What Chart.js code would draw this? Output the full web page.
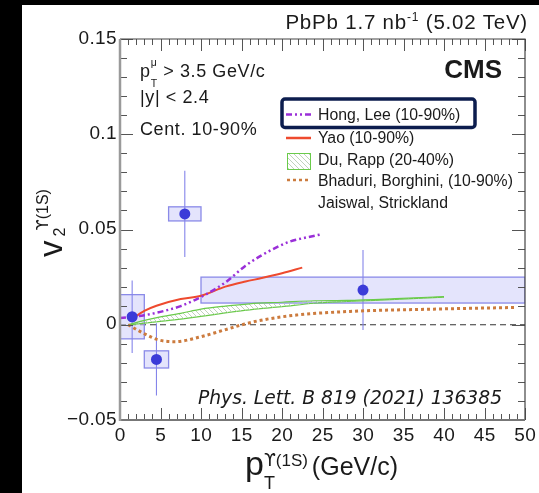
<!DOCTYPE html>
<html>
<head>
<meta charset="utf-8">
<script src="https://cdn.jsdelivr.net/npm/chart.js@4.4.1/dist/chart.umd.min.js"></script>
<style>
  html, body { margin: 0; padding: 0; background: #000; }
  #page { position: absolute; left: 22px; top: 5px; width: 517px; height: 488px; background: #fff; }
  #chart { position: absolute; left: 0; top: 0; }
  .txt { position: absolute; font-family: "Liberation Sans", Arial, sans-serif; color: #1a1a1a; white-space: nowrap; line-height: 1; }
  .stack { position: relative; display: inline-block; }
  .stack > span { position: absolute; left: 0; line-height: 1; }
  .ups { font-family: "DejaVu Sans", sans-serif; }
</style>
</head>
<body>
<div id="page"></div>
<canvas id="chart" width="539" height="493"></canvas>

<!-- header / annotations -->
<div class="txt" style="right:11px; top:12px; font-size:20.5px; letter-spacing:0.8px;">PbPb 1.7 nb<span style="font-size:12px; position:relative; top:-8px;">-1</span> (5.02 TeV)</div>
<div class="txt" style="right:37px; top:56.3px; font-size:26px; font-weight:bold;">CMS</div>

<div class="txt" style="left:140px; top:61.5px; font-size:18px; letter-spacing:0.6px;">p<span class="stack" style="width:7px;"><span style="font-size:10.5px; top:1.5px;">T</span><span style="font-size:10.5px; top:-20px;">μ</span></span> &gt; 3.5 GeV/c</div>
<div class="txt" style="left:140px; top:88px; font-size:18px; letter-spacing:0.6px;">|y| &lt; 2.4</div>
<div class="txt" style="left:140px; top:120.3px; font-size:18px; letter-spacing:0.6px;">Cent. 10-90%</div>

<!-- legend labels -->
<div class="txt" style="left:318px; top:106.5px; font-size:15.8px;">Hong, Lee (10-90%)</div>
<div class="txt" style="left:318px; top:129.8px; font-size:15.8px;">Yao (10-90%)</div>
<div class="txt" style="left:318px; top:151.5px; font-size:15.8px;">Du, Rapp (20-40%)</div>
<div class="txt" style="left:318px; top:173.2px; font-size:15.8px;">Bhaduri, Borghini, (10-90%)</div>
<div class="txt" style="left:318px; top:194.8px; font-size:15.8px;">Jaiswal, Strickland</div>

<div class="txt" style="left:198px; top:389.2px; font-size:18.7px; font-family:'DejaVu Sans', sans-serif; font-style:italic;">Phys. Lett. B 819 (2021) 136385</div>

<!-- axis titles -->
<div class="txt" style="left:245px; top:446.2px; font-size:34px;">p<span class="stack" style="width:41px;"><span style="font-size:18px; top:-1.2px;">T</span><span style="font-size:17px; top:-23.4px;"><span class="ups">ϒ</span>(1S)</span></span><span style="font-size:25px;"> (GeV/c)</span></div>
<div class="txt" style="left:34px; top:257px; font-size:33px; transform-origin:0 0; transform:rotate(-90deg);">v<span class="stack" style="width:44px;"><span style="font-size:16px; top:-10.5px; left:4px;">2</span><span style="font-size:16px; top:-27px; left:10px;"><span class="ups">ϒ</span>(1S)</span></span></div>

<script>
// ─── Measured points (CMS) ───
const ptBins  = [1.5, 4.5, 8, 30];
const v2Vals  = [0.0042, -0.0182, 0.0582, 0.0182];
const statErr = [0.019, 0.019, 0.0226, 0.021];
const sysErr  = [0.0116, 0.0045, 0.0037, 0.0068];
const binLo   = [0, 3, 6, 10];
const binHi   = [3, 6, 10, 50];

// ─── Model curves ───
const hongPt = [0, 3, 5.5, 7.5, 9, 10.5, 13, 15.5, 17.5, 19.5, 21, 23, 25];
const hongV2 = [0.0035, 0.005, 0.0073, 0.0098, 0.0125, 0.0157, 0.0222, 0.031, 0.0365, 0.041, 0.0437, 0.0458, 0.0476];

const yaoPt = [1.5, 3, 4.5, 7.5, 10, 13, 15.5, 17.5, 20, 22.5];
const yaoV2 = [0.003, 0.0073, 0.010, 0.0135, 0.0152, 0.020, 0.0227, 0.0245, 0.027, 0.030];

const duPt = [1, 2.5, 4.7, 7.5, 10, 13, 16, 20, 24, 28, 34, 40];
const duUp = [0, 0.0018, 0.0039, 0.006, 0.0082, 0.0098, 0.011, 0.0118, 0.0126, 0.0128, 0.0137, 0.0148];
const duLo = [0, 0.0006, 0.0016, 0.003, 0.0044, 0.0062, 0.0078, 0.0095, 0.0113, 0.0122, 0.0133, 0.0145];

const bhaPt = [1, 3.1, 4.7, 6.8, 9.7, 12.6, 15.4, 17.7, 21.8, 28.4, 38.7, 49];
const bhaV2 = [0, -0.0049, -0.0079, -0.0089, -0.0066, -0.0031, 0.0004, 0.0026, 0.0051, 0.007, 0.0082, 0.0091];

// ─── Axes ───
const xTicks = [0, 5, 10, 15, 20, 25, 30, 35, 40, 45, 50];
const yTicks = [-0.05, 0, 0.05, 0.1, 0.15];
const yTickLabels = ['\u22120.05', '0', '0.05', '0.1', '0.15'];

const pairs = (xs, ys) => xs.map((x, i) => ({ x, y: ys[i] }));

function hatchPattern() {
  const c = document.createElement('canvas');
  c.width = 5; c.height = 5;
  const g = c.getContext('2d');
  g.strokeStyle = '#b9cdb4';
  g.lineWidth = 0.9;
  g.beginPath();
  g.moveTo(0, 0); g.lineTo(5, 5);
  g.moveTo(-2.5, 2.5); g.lineTo(2.5, 7.5);
  g.moveTo(2.5, -2.5); g.lineTo(7.5, 2.5);
  g.stroke();
  return g.createPattern(c, 'repeat');
}
const hatch = hatchPattern();

const COL = {
  point: '#3b3bd8', err: '#8585ea', boxFill: 'rgba(205,205,250,0.55)', boxLine: '#8a8ae8',
  hong: '#9a2fd8', yao: '#ee4a2e', du: '#6acb4a', bha: '#cc7b3e', axis: '#555'
};

// ─── Decorations: syst boxes, error bars, frame, ticks, legend symbols ───
const decor = {
  id: 'decor',
  beforeDatasetsDraw(chart) {
    const { ctx, chartArea: a, scales: { x, y } } = chart;
    ctx.save();
    ctx.beginPath(); ctx.rect(a.left, a.top, a.right - a.left, a.bottom - a.top); ctx.clip();

    // zero line
    ctx.strokeStyle = '#333'; ctx.lineWidth = 1; ctx.setLineDash([6, 4]);
    ctx.beginPath(); ctx.moveTo(a.left, y.getPixelForValue(0)); ctx.lineTo(a.right, y.getPixelForValue(0)); ctx.stroke();
    ctx.setLineDash([]);

    // systematic boxes
    ptBins.forEach((pt, i) => {
      const x0 = x.getPixelForValue(binLo[i]), x1 = x.getPixelForValue(binHi[i]);
      const y0 = y.getPixelForValue(v2Vals[i] + sysErr[i]), y1 = y.getPixelForValue(v2Vals[i] - sysErr[i]);
      ctx.fillStyle = COL.boxFill; ctx.fillRect(x0, y0, x1 - x0, y1 - y0);
      ctx.strokeStyle = COL.boxLine; ctx.lineWidth = 1.3; ctx.strokeRect(x0, y0, x1 - x0, y1 - y0);
    });

    // stat error bars
    ctx.strokeStyle = COL.err; ctx.lineWidth = 1.1;
    ptBins.forEach((pt, i) => {
      const px = x.getPixelForValue(pt);
      ctx.beginPath();
      ctx.moveTo(px, y.getPixelForValue(v2Vals[i] + statErr[i]));
      ctx.lineTo(px, y.getPixelForValue(v2Vals[i] - statErr[i]));
      ctx.stroke();
    });
    ctx.restore();
  },
  afterDraw(chart) {
    const { ctx, chartArea: a, scales: { x, y } } = chart;
    ctx.save();

    // ticks (inward, all four sides)
    ctx.strokeStyle = COL.axis; ctx.lineWidth = 1;
    ctx.beginPath();
    for (let v = 0; v <= 50; v += 1) {
      const px = Math.round(x.getPixelForValue(v)) + 0.5;
      const len = v % 5 === 0 ? 12 : 6;
      ctx.moveTo(px, a.bottom); ctx.lineTo(px, a.bottom - len);
      ctx.moveTo(px, a.top); ctx.lineTo(px, a.top + len);
    }
    for (let k = -5; k <= 15; k++) {
      const py = Math.round(y.getPixelForValue(k / 100)) + 0.5;
      const len = k % 5 === 0 ? 13 : 7;
      ctx.moveTo(a.left, py); ctx.lineTo(a.left + len, py);
      ctx.moveTo(a.right, py); ctx.lineTo(a.right - len, py);
    }
    ctx.stroke();

    // frame
    ctx.strokeStyle = '#444'; ctx.lineWidth = 1.2;
    ctx.beginPath(); ctx.moveTo(a.left, a.top); ctx.lineTo(a.right, a.top); ctx.lineTo(a.right, a.bottom); ctx.stroke();
    ctx.strokeStyle = '#777'; ctx.lineWidth = 2;
    ctx.beginPath(); ctx.moveTo(a.left, a.bottom); ctx.lineTo(a.right, a.bottom); ctx.stroke();
    ctx.strokeStyle = '#9a9a9a'; ctx.lineWidth = 2.5;
    ctx.beginPath(); ctx.moveTo(a.left, a.top); ctx.lineTo(a.left, a.bottom + 1); ctx.stroke();

    // tick labels
    ctx.fillStyle = '#1a1a1a';
    ctx.font = '19px "Liberation Sans", Arial, sans-serif';
    ctx.letterSpacing = '0.4px';
    ctx.textBaseline = 'middle';
    ctx.textAlign = 'right';
    yTicks.forEach((v, i) => ctx.fillText(yTickLabels[i], a.left - 3, y.getPixelForValue(v) - 0.5));
    ctx.textAlign = 'center';
    xTicks.forEach(v => ctx.fillText(String(v), x.getPixelForValue(v) + 0.3, 436));
    ctx.letterSpacing = '0px';

    // legend symbols
    ctx.lineWidth = 2.5; ctx.strokeStyle = COL.hong; ctx.setLineDash([6, 3, 2, 3, 2, 3]);
    ctx.beginPath(); ctx.moveTo(286, 114.5); ctx.lineTo(311, 114.5); ctx.stroke();
    ctx.setLineDash([]); ctx.strokeStyle = COL.yao;
    ctx.beginPath(); ctx.moveTo(286, 138); ctx.lineTo(311, 138); ctx.stroke();
    ctx.fillStyle = hatch; ctx.fillRect(287, 153, 23, 16);
    ctx.strokeStyle = COL.du; ctx.lineWidth = 1; ctx.strokeRect(287.5, 153.5, 23, 16);
    ctx.strokeStyle = COL.bha; ctx.lineWidth = 2.5; ctx.setLineDash([3, 3]);
    ctx.beginPath(); ctx.moveTo(287, 180); ctx.lineTo(311, 180); ctx.stroke();
    ctx.setLineDash([]);

    // highlight box round first legend entry
    ctx.strokeStyle = '#0c1d4e'; ctx.lineWidth = 3.5;
    ctx.beginPath(); ctx.roundRect(282, 99, 193, 28.5, 3); ctx.stroke();
    ctx.restore();
  }
};

const lineBase = { pointRadius: 0, fill: false, cubicInterpolationMode: 'monotone' };

new Chart(document.getElementById('chart'), {
  type: 'line',
  data: {
    datasets: [
      { label: 'CMS', data: pairs(ptBins, v2Vals), showLine: false, pointRadius: 5.5,
        pointBackgroundColor: COL.point, pointBorderColor: COL.point, pointBorderWidth: 0 },
      { ...lineBase, label: 'Hong, Lee', data: pairs(hongPt, hongV2), borderColor: COL.hong, borderWidth: 2.5, borderDash: [6, 3, 2, 3, 2, 3] },
      { ...lineBase, label: 'Yao', data: pairs(yaoPt, yaoV2), borderColor: COL.yao, borderWidth: 2 },
      { ...lineBase, label: 'Bhaduri', data: pairs(bhaPt, bhaV2), borderColor: COL.bha, borderWidth: 3, borderDash: [3, 3] },
      { ...lineBase, label: 'Du, Rapp up', data: pairs(duPt, duUp), borderColor: COL.du, borderWidth: 1.2, fill: '+1', backgroundColor: hatch },
      { ...lineBase, label: 'Du, Rapp lo', data: pairs(duPt, duLo), borderColor: COL.du, borderWidth: 1.2 }
    ]
  },
  options: {
    responsive: false,
    devicePixelRatio: 1,
    animation: false,
    layout: { padding: { left: 120, right: 14, top: 39, bottom: 73 } },
    scales: {
      x: { type: 'linear', min: 0, max: 50, display: false },
      y: { type: 'linear', min: -0.05, max: 0.15, display: false }
    },
    plugins: { legend: { display: false }, tooltip: { enabled: false } }
  },
  plugins: [decor]
});
</script>
</body>
</html>
